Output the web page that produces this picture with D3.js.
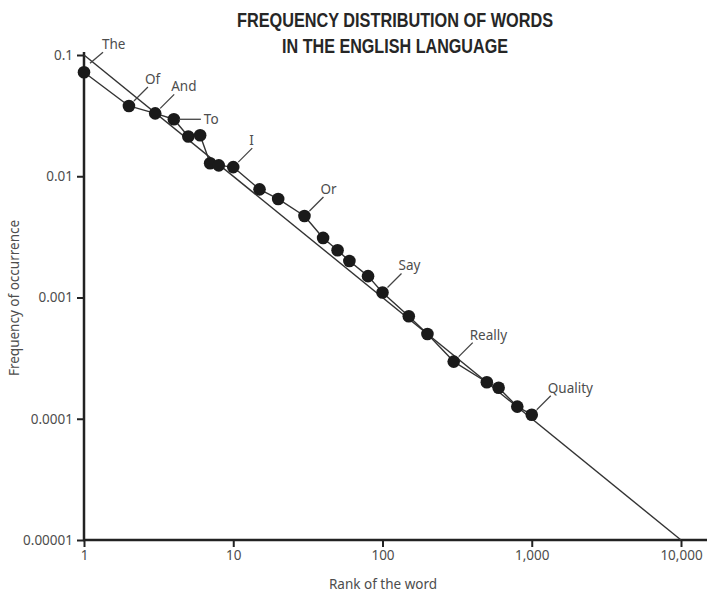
<!DOCTYPE html>
<html>
<head>
<meta charset="utf-8">
<script src="https://cdn.jsdelivr.net/npm/d3@7"></script>
<style>
  body { margin: 0; background: #fff; }
  svg { display: block; }
</style>
</head>
<body>
<div id="chart"></div>
<script>
// word ranks and their frequency of occurrence
var ranks = [1, 2, 3, 4, 5, 6, 7, 8, 10, 15, 20, 30, 40, 50, 60, 80, 100, 150, 200, 300, 500, 600, 800, 1000];
var freqs = [0.072, 0.038, 0.033, 0.0295, 0.0213, 0.0218, 0.0128, 0.0123, 0.0119, 0.0078, 0.0065,
             0.0047, 0.0031, 0.00245, 0.002, 0.0015, 0.0011, 0.0007, 0.0005, 0.000296, 0.0002, 0.00018,
             0.000126, 0.000108];

// labelled words and the rank they sit at
var words = ['The', 'Of', 'And', 'To', 'I', 'Or', 'Say', 'Really', 'Quality'];
var wordRanks = [1, 2, 3, 4, 10, 30, 100, 300, 1000];

// ideal Zipf line, frequency = 0.1 / rank
var zipfRanks = [1, 10000];
var zipfFreqs = [0.1, 0.00001];

var xTicks = [1, 10, 100, 1000, 10000];
var xTickLabels = ['1', '10', '100', '1,000', '10,000'];
var yTicks = [0.1, 0.01, 0.001, 0.0001, 0.00001];
var yTickLabels = ['0.1', '0.01', '0.001', '0.0001', '0.00001'];

var titleLines = ['FREQUENCY DISTRIBUTION OF WORDS', 'IN THE ENGLISH LANGUAGE'];

var width = 710, height = 592;
var font = '"Noto Sans", sans-serif';
var textColor = '#4d4d4d';

var svg = d3.select('#chart').append('svg')
  .attr('width', width)
  .attr('height', height);

var x = d3.scaleLog().domain([1, 10000]).range([84, 681]);
var y = d3.scaleLog().domain([0.00001, 0.1]).range([540, 55]);

// title, squeezed to look like the condensed face in the original
var titleWidths = [316, 226];
titleLines.forEach(function(t, i) {
  svg.append('text')
    .attr('x', 395).attr('y', 27 + i * 26)
    .attr('text-anchor', 'middle')
    .attr('font-family', '"Liberation Sans", Arial, sans-serif')
    .attr('font-weight', 'bold')
    .attr('font-size', 20.5)
    .attr('textLength', titleWidths[i])
    .attr('lengthAdjust', 'spacingAndGlyphs')
    .attr('fill', '#262626')
    .text(t);
});

// axes
var xAxis = svg.append('g')
  .attr('transform', 'translate(0,' + y(0.00001) + ')')
  .call(d3.axisBottom(x).tickValues(xTicks).tickSize(7).tickPadding(3)
    .tickFormat(function(d, i) { return xTickLabels[i]; }));
xAxis.select('.domain').remove();
xAxis.append('line')
  .attr('x1', x(1) - 1).attr('x2', 707)
  .attr('stroke', '#222').attr('stroke-width', 2.5);

var yAxis = svg.append('g')
  .attr('transform', 'translate(' + x(1) + ',0)')
  .call(d3.axisLeft(y).tickValues(yTicks).tickSize(7).tickPadding(4)
    .tickFormat(function(d, i) { return yTickLabels[i]; }));
yAxis.select('.domain').remove();
yAxis.append('line')
  .attr('y1', y(0.1) - 3).attr('y2', y(0.00001) + 1)
  .attr('stroke', '#222').attr('stroke-width', 2.5);

svg.selectAll('.tick line').attr('stroke', '#222').attr('stroke-width', 2);
svg.selectAll('.tick text')
  .attr('font-family', font)
  .attr('font-size', 13.5)
  .attr('fill', textColor);

// axis titles
svg.append('text')
  .attr('x', 383).attr('y', 589)
  .attr('text-anchor', 'middle')
  .attr('font-family', font).attr('font-size', 13.5)
  .attr('fill', textColor)
  .text('Rank of the word');

svg.append('text')
  .attr('transform', 'translate(19,298) rotate(-90)')
  .attr('text-anchor', 'middle')
  .attr('font-family', font).attr('font-size', 13.5)
  .attr('fill', textColor)
  .text('Frequency of occurrence');

// zipf reference line
var zipf = zipfRanks.map(function(r, i) { return {rank: r, freq: zipfFreqs[i]}; });
var line = d3.line()
  .x(function(d) { return x(d.rank); })
  .y(function(d) { return y(d.freq); });

svg.append('path')
  .datum(zipf)
  .attr('fill', 'none')
  .attr('stroke', '#333')
  .attr('stroke-width', 1.4)
  .attr('d', line);

// observed words
var data = ranks.map(function(r, i) { return {rank: r, freq: freqs[i]}; });

svg.append('path')
  .datum(data)
  .attr('fill', 'none')
  .attr('stroke', '#333')
  .attr('stroke-width', 1.4)
  .attr('stroke-linejoin', 'round')
  .attr('d', line);

svg.selectAll('circle.pt')
  .data(data)
  .enter()
  .append('circle')
  .attr('class', 'pt')
  .attr('cx', function(d) { return x(d.rank); })
  .attr('cy', function(d) { return y(d.freq); })
  .attr('r', 6.3)
  .attr('fill', '#1a1a1a');

// word labels with leader lines
var leader = {
  diag: {x1: 5, y1: -5, x2: 19, y2: -19, tx: 16, ty: -22},
  To:   {x1: 5, y1: 0, x2: 27, y2: 0, tx: 30, ty: 5},
  The:  {x1: 6, y1: -9, x2: 19, y2: -20, tx: 18, ty: -23}
};

words.forEach(function(w, i) {
  var r = wordRanks[i];
  var f = freqs[ranks.indexOf(r)];
  var px = x(r), py = y(f);
  var o = leader[w] || leader.diag;
  svg.append('line')
    .attr('x1', px + o.x1).attr('y1', py + o.y1)
    .attr('x2', px + o.x2).attr('y2', py + o.y2)
    .attr('stroke', '#444').attr('stroke-width', 1.3);
  svg.append('text')
    .attr('x', px + o.tx).attr('y', py + o.ty)
    .attr('font-family', font).attr('font-size', 13.5)
    .attr('fill', textColor)
    .text(w);
});
</script>
</body>
</html>
